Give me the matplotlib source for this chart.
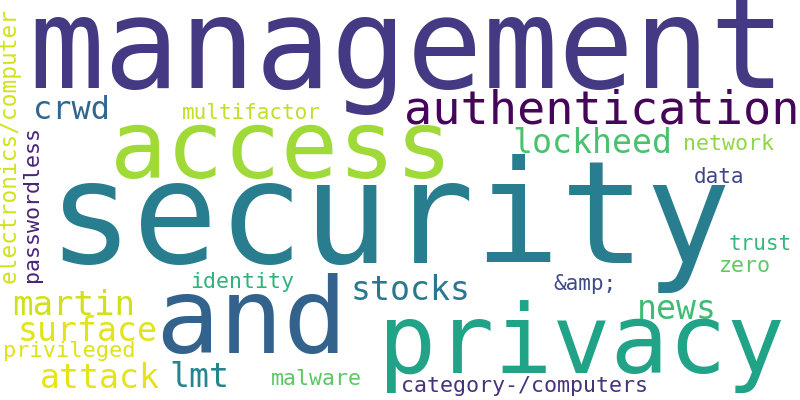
import matplotlib
matplotlib.use("Agg")
import matplotlib.pyplot as plt

# words and their relative weight (largest = 1.0)
words = ["security", "management", "and", "privacy", "access", "authentication",
         "martin", "stocks", "surface", "attack", "lmt", "news", "lockheed", "crwd",
         "electronics/computer", "privileged", "passwordless", "identity", "malware",
         "category-/computers", "network", "zero", "trust", "data", "&amp;", "multifactor"]
freq = [1.00, 0.887, 0.75, 0.68, 0.67, 0.33,
        0.24, 0.233, 0.233, 0.233, 0.233, 0.233, 0.233, 0.225,
        0.160, 0.155, 0.152, 0.152, 0.152,
        0.152, 0.152, 0.152, 0.148, 0.148, 0.148, 0.148]

# layout of the cloud: ink-left x, baseline y (pixels), rotation
xs = [57, 37, 163, 385, 117, 407,
      15, 353, 20, 42, 172, 639, 515, 35,
      16, 5, 38, 192, 272,
      403, 685, 720, 730, 695, 555, 183]
ys = [263, 88, 353, 373, 178, 123,
      315, 300, 341, 388, 387, 319, 153, 119,
      281, 357, 280, 288, 385,
      392, 150, 272, 250, 183, 290, 119]
rot = [0] * 14 + [90, 0, 90] + [0] * 9
colors = ["#287D8E", "#443983", "#33638D", "#20A386", "#A0DA39", "#450559",
          "#D0E11C", "#2A788E", "#E2E418", "#E5E419", "#25858E", "#3FBC73", "#4AC16D", "#31668E",
          "#D2E21B", "#DDE318", "#482475", "#2FB47C", "#5DC863",
          "#46337E", "#90D743", "#5EC962", "#35B779", "#414487", "#3E4A89", "#C0DF25"]

max_px = 142
dpi = 100

fig = plt.figure(figsize=(8, 4), dpi=dpi, facecolor="white")
ax = fig.add_axes([0, 0, 1, 1])
ax.set_xlim(0, 800)
ax.set_ylim(400, 0)
ax.axis("off")

for w, f, x, y, r, c in zip(words, freq, xs, ys, rot, colors):
    px = f * max_px
    lsb = 0.07 * px
    if r == 0:
        ax.text(x - lsb, y, w, fontsize=px * 72 / dpi, color=c,
                family="DejaVu Sans Mono", ha="left", va="baseline")
    else:
        ax.text(x, y + lsb, w, fontsize=px * 72 / dpi, color=c,
                family="DejaVu Sans Mono", ha="left", va="baseline",
                rotation=90, rotation_mode="anchor")

fig.savefig("out.png", dpi=dpi, facecolor="white")
